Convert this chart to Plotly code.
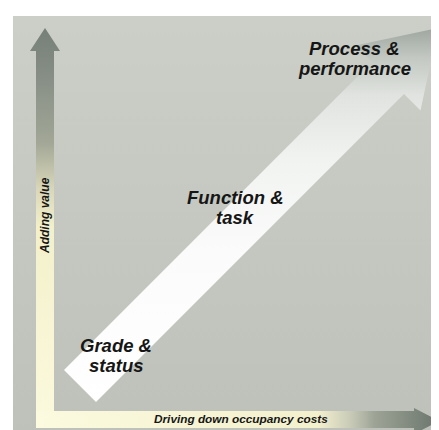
import plotly.graph_objects as go

# ---- data ----
stage_labels = [["Grade &", "status"], ["Function &", "task"], ["Process &", "performance"]]
stage_cost = [108, 227, 346]      # position along "driving down occupancy costs"
stage_value = [347, 199, 50]      # position along "adding value" (screen-down axis)
axis_titles = ["Adding value", "Driving down occupancy costs"]

W, H = 439, 430
FONT = "Liberation Sans, Arial, sans-serif"
TXT = "#161616"

fig = go.Figure()

def poly(xs, ys, colorscale, orient, start, stop):
    fig.add_trace(go.Scatter(
        x=xs + [xs[0]], y=ys + [ys[0]], mode="lines", fill="toself",
        line=dict(width=0, color="rgba(0,0,0,0)"),
        fillgradient=dict(type=orient, colorscale=colorscale, start=start, stop=stop),
        hoverinfo="skip", showlegend=False))

# background panel
poly([5, W, W, 5], [8, 8, H, H],
     [[0, "#cbcfc7"], [0.5, "#c4c8c0"], [1, "#bdc1b9"]], "vertical", 8, H)

# vertical axis arrow (Adding value)
vx = [28, 46, 46, 52, 37, 22, 28]
vy = [403, 403, 43, 43, 20, 43, 43]
poly(vx, vy, [[0, "#778078"], [0.12, "#858d85"], [0.3, "#a2a796"],
              [0.42, "#d9d7b9"], [0.52, "#f3f0cb"], [1, "#fbf9dc"]],
     "vertical", 20, 403)

# horizontal axis arrow (Driving down occupancy costs)
hx = [28, 406, 406, 431, 406, 406, 28]
hy = [403, 403, 400, 413, 426, 420, 420]
poly(hx, hy, [[0, "#fcfadf"], [0.7, "#f3f0cd"], [0.78, "#c9cbb8"],
              [0.84, "#9da496"], [1, "#6b756c"]],
     "horizontal", 28, 431)

# diagonal progression arrow (band in rotated u=x+y, v=x-y coordinates)
def uv(u, v):
    return (u + v) / 2, (u - v) / 2
pts = [uv(418, -306), uv(482, -306), uv(482, 310), uv(515, 310),
       uv(450, 410), uv(385, 310), uv(418, 310)]
dx = [p[0] for p in pts]
dy = [p[1] for p in pts]
poly(dx, dy, [[0, "#9ea69f"], [0.08, "#c3c8c2"], [0.18, "#e0e3df"],
              [0.35, "#f1f3f1"], [0.6, "#fafbfa"], [1, "#ffffff"]],
     "vertical", 20, 394)

# stage labels
for lines, cx, cy in zip(stage_labels, stage_cost, stage_value):
    for i, t in enumerate(lines):
        fig.add_annotation(x=cx, y=cy - 10 + 20 * i, text=t, showarrow=False,
                           xanchor="center", yanchor="middle",
                           font=dict(family=FONT, size=18.5, color=TXT,
                                     weight="bold", style="italic"))

# axis titles
fig.add_annotation(x=37, y=208, text=axis_titles[0], showarrow=False, textangle=-90,
                   xanchor="center", yanchor="middle",
                   font=dict(family=FONT, size=12, color=TXT, weight="bold", style="italic"))
fig.add_annotation(x=233, y=411, text=axis_titles[1], showarrow=False,
                   xanchor="center", yanchor="middle",
                   font=dict(family=FONT, size=11.8, color=TXT, weight="bold", style="italic"))

fig.update_layout(
    width=W, height=H, autosize=False,
    margin=dict(l=0, r=0, t=0, b=0),
    paper_bgcolor="white", plot_bgcolor="white",
    xaxis=dict(range=[0, W], visible=False, fixedrange=True),
    yaxis=dict(range=[H, 0], visible=False, fixedrange=True),
)
fig.write_html("out.html")
